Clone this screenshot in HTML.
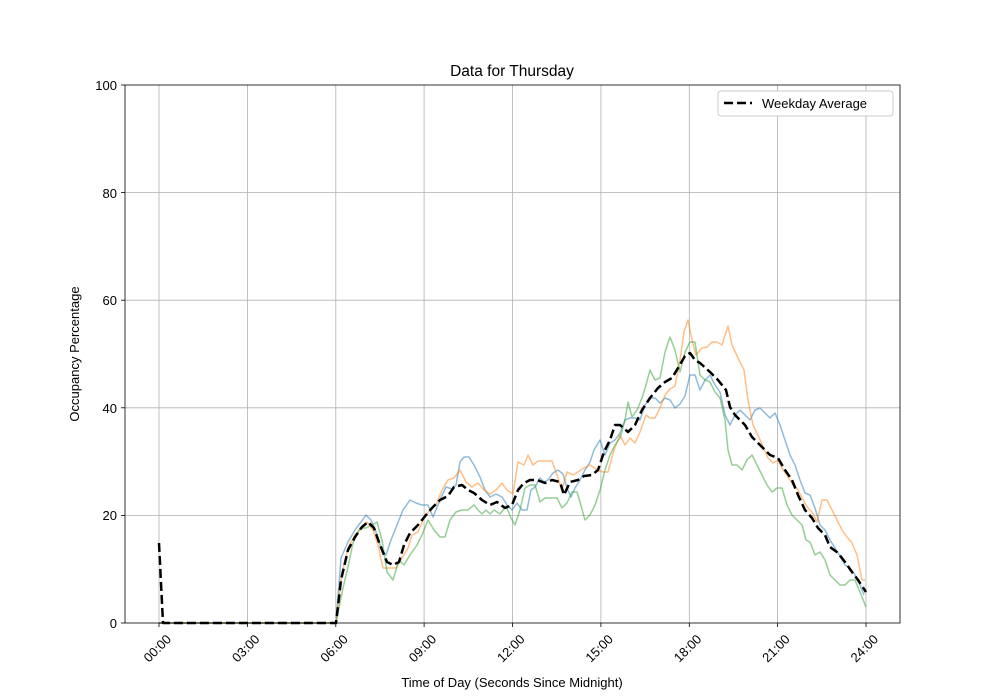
<!DOCTYPE html>
<html><head><meta charset="utf-8"><style>body{margin:0;background:#fff}svg{display:block;font-family:"Liberation Sans","DejaVu Sans",sans-serif}</style></head><body>
<svg width="1000" height="700" viewBox="0 0 1000 700">
<rect width="1000" height="700" fill="#fff"/>
<g stroke="#b0b0b0" stroke-width="0.8">
<line x1="159" y1="85" x2="159" y2="623"/><line x1="247.4" y1="85" x2="247.4" y2="623"/><line x1="335.8" y1="85" x2="335.8" y2="623"/><line x1="424.1" y1="85" x2="424.1" y2="623"/><line x1="512.5" y1="85" x2="512.5" y2="623"/><line x1="600.9" y1="85" x2="600.9" y2="623"/><line x1="689.3" y1="85" x2="689.3" y2="623"/><line x1="777.6" y1="85" x2="777.6" y2="623"/><line x1="866" y1="85" x2="866" y2="623"/>
<line x1="125" y1="515.4" x2="900" y2="515.4"/><line x1="125" y1="407.8" x2="900" y2="407.8"/><line x1="125" y1="300.2" x2="900" y2="300.2"/><line x1="125" y1="192.6" x2="900" y2="192.6"/>
</g>
<g fill="none" stroke-width="1.5" stroke-opacity="0.5" stroke-linejoin="round">
<polyline stroke="#1f77b4" points="159,623 336,623 341,558 348,542 355,530 361,522 366,515 371,520 376,532 381,548 386,555 391,540 397,525 403,510 410,500 416,503 422,505 428,505 433,517 440,500 446,487 452,489 456,485 460,462 464,457 469,457 474,465 480,477 485,490 490,497 496,494 502,497 507,505 512,510 517,503 522,510 527,510 531,490 535,487 540,478 544,482 548,480 553,473 558,470 563,474 567,488 571,497 575,488 580,480 585,470 590,462 594,450 600,440 605,455 610,443 615,440 620,433 625,420 630,418 635,418 640,420 645,405 650,398 655,398 660,403 665,398 670,400 675,408 680,404 685,396 690,375 695,375 700,390 705,380 710,375 715,385 720,392 725,415 730,425 735,415 740,410 745,415 750,420 755,410 760,408 765,413 770,418 775,413 780,425 785,440 790,455 795,465 800,480 805,493 810,495 815,508 820,525 825,530 830,540 835,548 840,556 845,565 850,568 855,575 860,585 864,595"/>
<polyline stroke="#ff7f0e" points="159,623 336,623 342,573 348,548 355,535 362,528 367,522 373,530 378,545 383,568 390,568 396,568 402,558 408,548 412,535 418,532 424,518 430,510 436,505 442,490 448,480 454,478 460,470 466,482 472,487 478,483 484,490 490,494 496,490 502,483 507,490 513,494 518,462 524,465 528,455 533,465 538,461 545,461 552,461 557,475 562,490 567,472 573,475 578,472 584,468 590,465 597,470 603,472 608,472 614,450 620,435 625,445 630,438 635,443 640,432 646,415 650,418 655,418 660,408 665,395 670,389 675,386 680,360 684,332 688,320 692,340 696,355 702,348 707,347 712,342 717,342 722,345 728,326 732,345 738,358 744,370 748,400 753,425 758,435 763,447 768,458 773,463 778,460 783,470 788,477 793,485 798,490 803,500 808,508 812,512 817,522 822,500 827,500 832,510 837,520 842,530 847,537 852,543 857,555 862,580 865,580"/>
<polyline stroke="#2ca02c" points="159,623 336,623 343,588 348,567 353,543 360,528 366,528 372,525 377,522 382,540 387,572 393,580 399,560 404,565 410,555 417,545 422,535 428,520 434,530 440,537 445,537 450,520 456,512 462,510 468,510 474,505 478,510 482,514 486,510 490,514 494,510 500,514 506,506 511,518 515,525 520,510 525,488 530,485 535,485 540,502 545,498 550,498 557,498 562,508 567,503 572,492 577,492 580,502 585,520 590,515 595,505 600,490 605,470 610,455 615,445 620,438 625,420 628,402 632,417 637,410 642,398 646,385 650,370 655,380 660,378 665,352 670,337 675,350 680,372 685,352 690,342 695,342 700,375 705,380 710,382 715,392 720,398 725,420 728,450 732,465 737,465 742,470 747,460 752,455 757,465 762,475 767,485 772,492 777,488 782,488 787,505 792,515 797,520 802,525 806,540 810,542 815,555 820,552 825,560 830,575 835,580 840,585 845,585 850,580 855,580 860,592 866,607"/>
</g>
<polyline fill="none" stroke="#000" stroke-width="2.5" stroke-dasharray="9,4" stroke-linejoin="round" points="159,543 163,623 336,623 341,580 348,550 355,537 362,527 368,522 374,528 380,545 387,562 393,565 399,562 404,545 410,533 418,525 426,515 432,508 440,500 448,496 454,487 462,485 468,490 474,493 482,500 490,505 497,502 505,508 512,505 518,490 524,483 530,480 537,480 545,483 552,480 560,482 564,495 570,482 578,480 584,476 592,475 598,470 604,452 610,440 615,425 620,425 628,432 635,425 642,410 650,398 658,388 665,382 672,378 678,368 685,356 690,353 695,360 700,363 710,372 718,380 726,390 730,407 735,415 745,425 752,437 760,445 770,455 778,458 785,470 792,480 798,495 805,510 812,518 818,528 825,535 830,547 838,553 845,562 852,572 858,580 866,592"/>
<rect x="125" y="85" width="775" height="538" fill="none" stroke="#000" stroke-width="0.8"/>
<g stroke="#000" stroke-width="0.8">
<line x1="159" y1="623" x2="159" y2="627"/><line x1="247.4" y1="623" x2="247.4" y2="627"/><line x1="335.8" y1="623" x2="335.8" y2="627"/><line x1="424.1" y1="623" x2="424.1" y2="627"/><line x1="512.5" y1="623" x2="512.5" y2="627"/><line x1="600.9" y1="623" x2="600.9" y2="627"/><line x1="689.3" y1="623" x2="689.3" y2="627"/><line x1="777.6" y1="623" x2="777.6" y2="627"/><line x1="866" y1="623" x2="866" y2="627"/>
<line x1="121" y1="623" x2="125" y2="623"/><line x1="121" y1="515.4" x2="125" y2="515.4"/><line x1="121" y1="407.8" x2="125" y2="407.8"/><line x1="121" y1="300.2" x2="125" y2="300.2"/><line x1="121" y1="192.6" x2="125" y2="192.6"/><line x1="121" y1="85" x2="125" y2="85"/>
</g>
<g font-size="13" text-anchor="end">
<text x="117" y="628">0</text><text x="117" y="520">20</text><text x="117" y="413">40</text><text x="117" y="305">60</text><text x="117" y="198">80</text><text x="117" y="90">100</text>
</g>
<g font-size="13" text-anchor="end">
<text transform="translate(172,640) rotate(-45)">00:00</text><text transform="translate(260.4,640) rotate(-45)">03:00</text><text transform="translate(348.8,640) rotate(-45)">06:00</text><text transform="translate(437.1,640) rotate(-45)">09:00</text><text transform="translate(525.5,640) rotate(-45)">12:00</text><text transform="translate(613.9,640) rotate(-45)">15:00</text><text transform="translate(702.3,640) rotate(-45)">18:00</text><text transform="translate(790.6,640) rotate(-45)">21:00</text><text transform="translate(879,640) rotate(-45)">24:00</text>
</g>
<text x="512" y="687" font-size="13" text-anchor="middle">Time of Day (Seconds Since Midnight)</text>
<text transform="translate(79,354) rotate(-90)" font-size="13" text-anchor="middle">Occupancy Percentage</text>
<text x="512" y="76" font-size="15.5" text-anchor="middle">Data for Thursday</text>
<rect x="718" y="91" width="175" height="25" rx="3" fill="#fff" stroke="#ccc"/>
<line x1="724" y1="103" x2="752" y2="103" stroke="#000" stroke-width="2.5" stroke-dasharray="9,4"/>
<text x="762" y="108" font-size="13">Weekday Average</text>
</svg>
</body></html>
